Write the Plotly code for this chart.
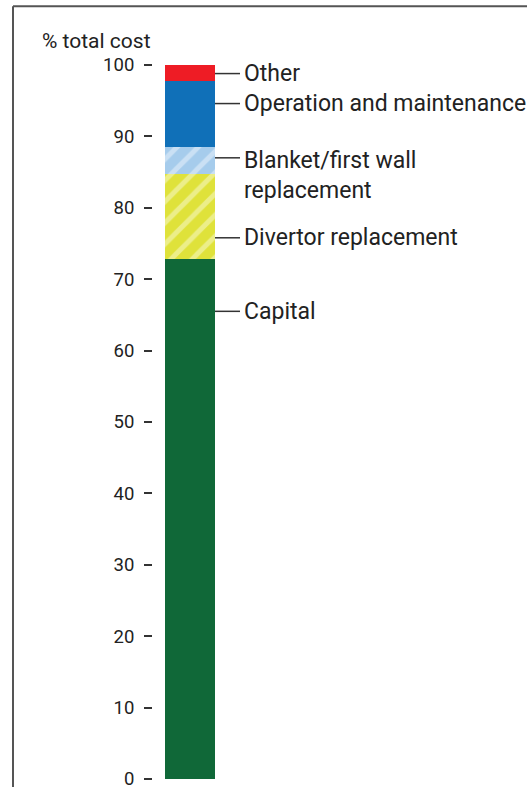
import plotly.graph_objects as go

# Share of total cost of electricity, stacked from the bottom up
categories = ["Capital", "Divertor replacement", "Blanket/first wall\nreplacement",
              "Operation and maintenance", "Other"]
shares = [72.8, 11.9, 3.8, 9.3, 2.2]
colors = ["#106838", "#DFE23A", "#A6CCEC", "#1070B8", "#EE1C25"]
hatched = [False, True, True, False, False]
# Height (in % of total) at which each label's leader line meets the bar
label_levels = [65.5, 75.8, 87.0, 94.6, 98.8]

tick_values = [0, 10, 20, 30, 40, 50, 60, 70, 80, 90, 100]

W, H = 527, 787
PLOT_L, PLOT_T, PLOT_B = 153, 64.7, 779.3
PX = 10.0  # pixels per x unit
x_span = (W - PLOT_L) / PX
bar_x = 3.7
bar_w = 5.0
text_font = dict(family="Roboto, sans-serif", color="#222222")

fig = go.Figure()
for name, val, col, h in zip(categories, shares, colors, hatched):
    pattern = dict(shape="/", fgcolor="white", fgopacity=0.4, size=15, solidity=0.33) if h else dict(shape="")
    fig.add_trace(go.Bar(
        x=[bar_x], y=[val], width=[bar_w], name=name,
        marker=dict(color=col, line=dict(width=0), pattern=pattern),
        showlegend=False, hoverinfo="skip",
    ))

x_line0 = bar_x + bar_w / 2
x_line1 = (240 - PLOT_L) / PX
for name, lvl in zip(categories, label_levels):
    fig.add_shape(type="line", x0=x_line0, x1=x_line1, y0=lvl, y1=lvl,
                  xref="x", yref="y", line=dict(color="#333333", width=1.5))
    lines = name.split("\n")
    fig.add_annotation(x=x_line1 + 0.15, y=lvl, xref="x", yref="y",
                       text="<br>".join(lines), showarrow=False,
                       xanchor="left", yanchor="top" if len(lines) > 1 else "middle",
                       yshift=13 if len(lines) > 1 else 0,
                       align="left", font=dict(size=23, **text_font))

plot_h = PLOT_B - PLOT_T
# Frame along the left and top edges of the figure
fx = (13 - PLOT_L) / (W - PLOT_L)
fy = (PLOT_B - 6) / plot_h
fig.add_shape(type="line", xref="paper", yref="paper", x0=fx, x1=fx, y0=fy, y1=-0.1,
              line=dict(color="#555555", width=2))
fig.add_shape(type="line", xref="paper", yref="paper", x0=fx, x1=1.1, y0=fy, y1=fy,
              line=dict(color="#555555", width=2))

fig.add_annotation(xref="paper", yref="paper", x=(40 - PLOT_L) / (W - PLOT_L),
                   y=(PLOT_B - 41) / plot_h, text="% total cost", showarrow=False,
                   xanchor="left", yanchor="middle", font=dict(size=21, **text_font))

fig.update_layout(
    width=W, height=H, barmode="stack",
    margin=dict(l=PLOT_L, r=0, t=PLOT_T, b=H - PLOT_B, pad=0, autoexpand=False),
    paper_bgcolor="white", plot_bgcolor="white",
    xaxis=dict(range=[0, x_span], visible=False, fixedrange=True, automargin=False),
    yaxis=dict(range=[0, 100], tickvals=tick_values, ticks="outside", ticklen=8,
               tickwidth=1.5, tickcolor="#333333", showgrid=False, zeroline=False,
               showline=False, ticklabelstandoff=6, ticklabeloverflow="allow",
               automargin=False, tickfont=dict(size=18.5, **text_font)),
)

fig.write_html("out.html")
